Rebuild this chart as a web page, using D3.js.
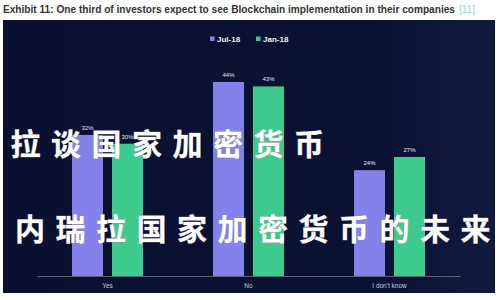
<!DOCTYPE html>
<html>
<head>
<meta charset="utf-8">
<script src="https://cdn.jsdelivr.net/npm/d3@7"></script>
<style>
  body { margin: 0; background: #fff; }
  svg { display: block; }
</style>
</head>
<body>
<div id="chart"></div>
<script>
// data
var categories = ["Yes", "No", "I don't know"];
var seriesNames = ["Jul-18", "Jan-18"];
var jul18 = [32, 44, 24];
var jan18 = [30, 43, 27];
var titleText = "Exhibit 11: One third of investors expect to see Blockchain implementation in their companies";
var titleRef = "[11]";
var overlayLine1 = "瑞拉谈国家加密货币";
var overlayLine2 = "内瑞拉国家加密货币的未来";

var width = 500, height = 300;
var colors = { "Jul-18": "#8282ea", "Jan-18": "#3ccb8c" };

var svg = d3.select("#chart").append("svg")
  .attr("width", width)
  .attr("height", height);

// title
var title = svg.append("text")
  .attr("x", 3).attr("y", 13)
  .style("font-family", "Liberation Sans, Arial, sans-serif")
  .style("font-size", 10)
  .style("font-weight", "bold")
  .style("fill", "#333");
title.append("tspan").text(titleText)
  .attr("textLength", 452).attr("lengthAdjust", "spacingAndGlyphs");
title.append("tspan").attr("dx", 4).text(titleRef)
  .style("fill", "#8fd9d0").style("font-weight", "normal");

// dark panel
var grad = svg.append("defs").append("linearGradient")
  .attr("id", "bg").attr("x1", 0).attr("x2", 1).attr("y1", 0).attr("y2", 0);
grad.append("stop").attr("offset", "0%").attr("stop-color", "#0a1030");
grad.append("stop").attr("offset", "75%").attr("stop-color", "#0a1233");
grad.append("stop").attr("offset", "100%").attr("stop-color", "#101a3e");

svg.append("rect")
  .attr("x", 3).attr("y", 20)
  .attr("width", 492).attr("height", 273)
  .attr("fill", "url(#bg)");

// scales
var x0 = d3.scaleBand().domain(categories).range([37, 460]);
var bw = x0.bandwidth();
var x1 = d3.scaleBand().domain(seriesNames)
  .range([bw / 2 - 35.5, bw / 2 + 35.5])
  .paddingInner(0.225);
var y = d3.scaleLinear().domain([0, 44]).range([276, 82]);

var rows = categories.map(function(c, i) {
  return { cat: c, values: [
    { key: "Jul-18", value: jul18[i] },
    { key: "Jan-18", value: jan18[i] }
  ]};
});

var g = svg.append("g");
var groups = g.selectAll(".grp")
  .data(rows)
  .enter().append("g")
  .attr("class", "grp")
  .attr("transform", function(d) { return "translate(" + x0(d.cat) + ",0)"; });

groups.selectAll("rect")
  .data(function(d) { return d.values; })
  .enter().append("rect")
  .attr("x", function(d) { return x1(d.key); })
  .attr("y", function(d) { return y(d.value); })
  .attr("width", x1.bandwidth())
  .attr("height", function(d) { return y(0) - y(d.value); })
  .attr("fill", function(d) { return colors[d.key]; });

groups.selectAll(".val")
  .data(function(d) { return d.values; })
  .enter().append("text")
  .attr("class", "val")
  .attr("x", function(d) { return x1(d.key) + x1.bandwidth() / 2; })
  .attr("y", function(d) { return y(d.value) - 5; })
  .attr("text-anchor", "middle")
  .style("font-family", "Liberation Sans, Arial, sans-serif")
  .style("font-size", 6)
  .style("fill", "#e8e8f0")
  .text(function(d) { return d.value + "%"; });

// x axis
var xAxis = svg.append("g")
  .attr("transform", "translate(0," + y(0) + ")")
  .call(d3.axisBottom(x0).tickSize(0).tickPadding(7));
xAxis.select(".domain").attr("stroke", "#5a6178").attr("stroke-width", 1);
xAxis.selectAll("text")
  .style("font-family", "Liberation Sans, Arial, sans-serif")
  .style("font-size", 6.5)
  .style("fill", "#c8cad6");

// legend
var legend = svg.append("g").attr("transform", "translate(210,39)");
var legendX = [0, 46];
seriesNames.forEach(function(s, i) {
  var lg = legend.append("g").attr("transform", "translate(" + legendX[i] + ",0)");
  lg.append("rect").attr("x", 0).attr("y", -2.5).attr("width", 4.5).attr("height", 4.5)
    .attr("fill", colors[s]);
  lg.append("text").attr("x", 7).attr("y", 3)
    .style("font-family", "Liberation Sans, Arial, sans-serif")
    .style("font-size", 8)
    .style("font-weight", "bold")
    .style("fill", "#eef0f8")
    .text(s);
});

// overlay text
function overlay(txt, x, yy) {
  svg.append("text")
    .attr("x", x).attr("y", yy)
    .style("font-family", "Noto Sans CJK SC, sans-serif")
    .style("font-size", 30)
    .style("font-weight", 700)
    .style("letter-spacing", "10.5px")
    .style("fill", "#fff")
    .style("stroke", "#9a9aa8")
    .style("stroke-width", 0.6)
    .style("paint-order", "stroke")
    .text(txt);
}
overlay(overlayLine1, -30, 155);
overlay(overlayLine2, 15, 240);
</script>
</body>
</html>
